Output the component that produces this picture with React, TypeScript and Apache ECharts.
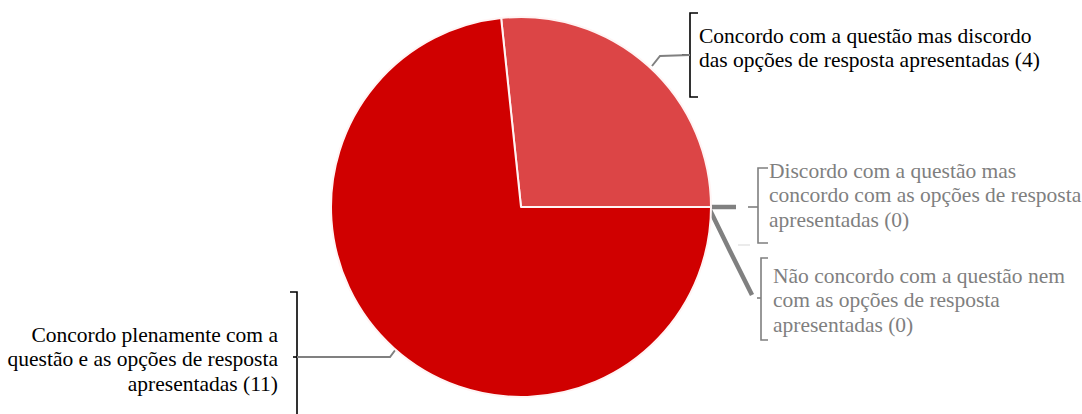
import React, { useEffect, useRef } from "react";
import * as echarts from "echarts";

const categories = [
  "Concordo com a questão mas discordo\ndas opções de resposta apresentadas",
  "Discordo com a questão mas\nconcordo com as opções de resposta\napresentadas",
  "Não concordo com a questão nem\ncom as opções de resposta\napresentadas",
  "Concordo plenamente com a\nquestão e as opções de resposta\napresentadas",
];
const values = [4, 0, 0, 11];
const sliceColors = ["#dc4546", "#dc4546", "#d00000", "#d00000"];
const labelColors = ["#000000", "#7f7f7f", "#7f7f7f", "#000000"];
const lineWidths = [2, 4.5, 4.5, 2];

const FONT = "Liberation Serif, Times New Roman, serif";

const labelLayouts = [
  { x: 699, y: 23.5, align: "left", verticalAlign: "top", labelLinePoints: [[652, 66], [660, 56], [690, 55]] },
  { x: 769, y: 158.5, align: "left", verticalAlign: "top", labelLinePoints: [[708, 207], [722, 207], [736, 207]] },
  { x: 773, y: 263.5, align: "left", verticalAlign: "top", labelLinePoints: [[709, 208], [730, 251], [752, 295]] },
  { x: 278, y: 322.5, align: "right", verticalAlign: "top", labelLinePoints: [[396, 349], [390, 357], [297, 357]] },
];

const brackets = [
  { color: "#000", points: [[698, 13], [690, 13], [690, 97], [698, 97]], tick: [[682, 55], [690, 55]] },
  { color: "#7f7f7f", points: [[768, 168], [758, 168], [758, 243], [768, 243]], tick: [[748, 207], [758, 207]] },
  { color: "#7f7f7f", points: [[768, 258], [761, 258], [761, 340], [768, 340]], tick: [[757, 298], [761, 298]] },
  { color: "#000", points: [[290, 292], [297, 292], [297, 414]], tick: [[293, 357], [297, 357]] },
];

export default function App() {
  const ref = useRef<HTMLDivElement>(null);
  useEffect(() => {
    if (!ref.current) return;
    const chart = echarts.init(ref.current, null, { renderer: "svg" });
    const graphics: any[] = [];
    brackets.forEach((b) => {
      graphics.push({ type: "polyline", shape: { points: b.points }, style: { stroke: b.color, lineWidth: 1.6, fill: null } });
      graphics.push({ type: "polyline", shape: { points: b.tick }, style: { stroke: b.color, lineWidth: 1.6, fill: null } });
    });
    graphics.push({ type: "line", shape: { x1: 738, y1: 245, x2: 750, y2: 245 }, style: { stroke: "#e4e4e4", lineWidth: 1.5 } });
    chart.setOption({
      animation: false,
      backgroundColor: "#ffffff",
      textStyle: { fontFamily: FONT },
      graphic: graphics,
      series: [
        {
          type: "pie",
          center: [521, 207],
          radius: 190,
          startAngle: 96,
          clockwise: true,
          avoidLabelOverlap: false,
          minShowLabelAngle: 0,
          itemStyle: { borderColor: "#fff4f4", borderWidth: 2 },
          label: {
            show: true,
            formatter: "{b} ({c})",
            fontFamily: FONT,
            fontSize: 21.5,
            lineHeight: 24.5,
          },
          labelLine: { show: true, lineStyle: { color: "#808080" } },
          labelLayout: (params: any) => labelLayouts[params.dataIndex],
          emphasis: { disabled: true },
          data: categories.map((name, i) => ({
            name,
            value: values[i],
            itemStyle: { color: sliceColors[i] },
            label: { color: labelColors[i], fontFamily: FONT },
            labelLine: { lineStyle: { width: lineWidths[i], color: "#808080" } },
          })),
        },
      ],
    });
    return () => chart.dispose();
  }, []);
  return <div ref={ref} style={{ position: "fixed", left: 0, top: 0, width: 1082, height: 414 }} />;
}
